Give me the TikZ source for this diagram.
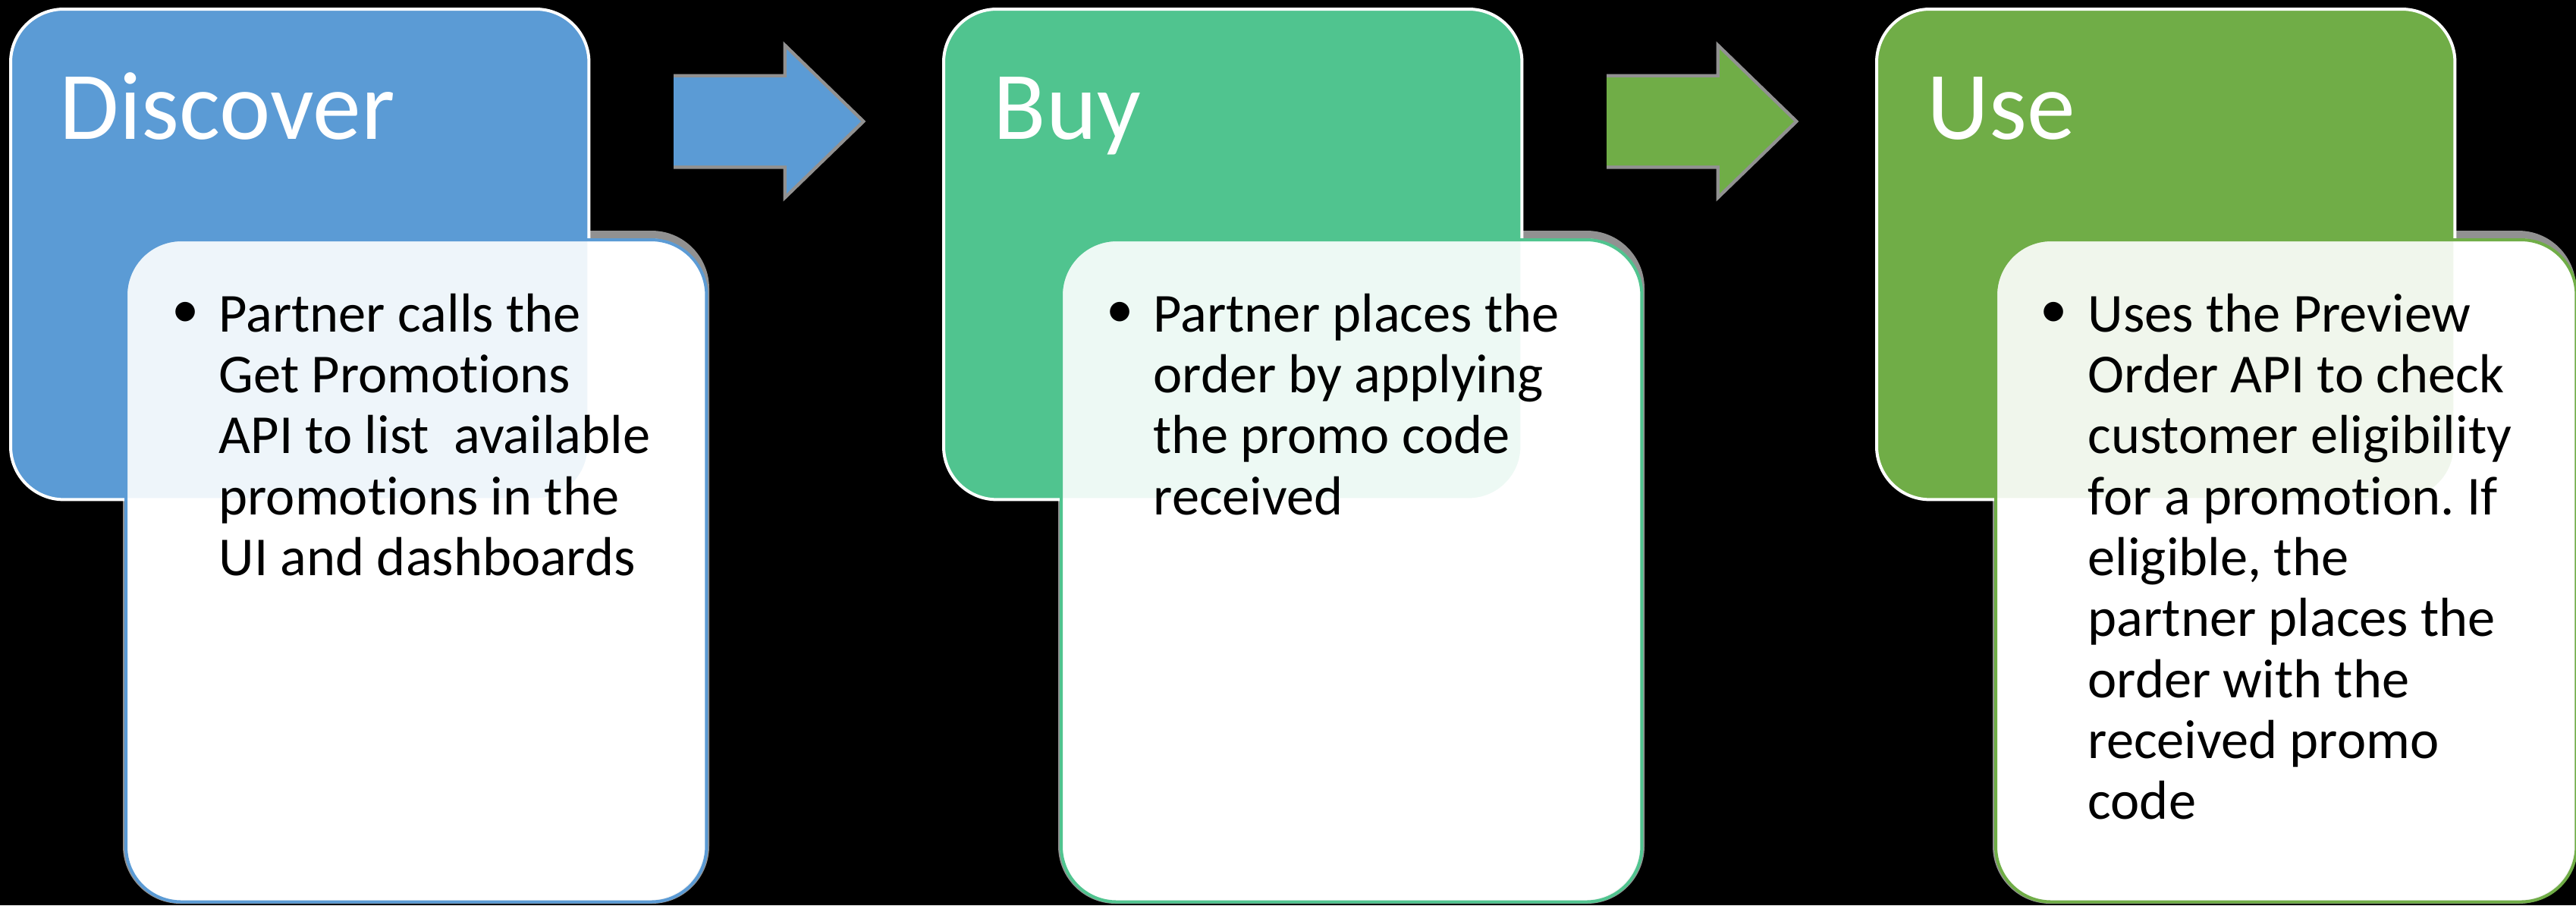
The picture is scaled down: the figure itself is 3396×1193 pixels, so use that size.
\documentclass[tikz,border=0pt]{standalone}
\usepackage{fontspec}
\setmainfont{Carlito}[Ligatures=NoCommon]
\frenchspacing
\definecolor{discblue}{RGB}{91,155,213}
\definecolor{buygreen}{RGB}{80,196,143}
\definecolor{usegreen}{RGB}{112,173,71}
\definecolor{shadowgray}{RGB}{145,145,145}
\begin{document}
\begin{tikzpicture}[x=0.01cm,y=-0.01cm,
  colbox/.style={draw=white, line width=0.04cm, rounded corners=0.7cm, inner sep=0pt,
    minimum width=7.62cm, minimum height=6.46cm, anchor=north west},
  txtbox/.style={line width=0.04cm, fill=white, fill opacity=0.9, rounded corners=0.73cm,
    inner sep=0pt, minimum width=7.65cm, minimum height=8.72cm, anchor=north west},
  whitebase/.style={fill=white, rounded corners=0.73cm},
  shadowbox/.style={fill=shadowgray, rounded corners=0.76cm},
  arrowshade/.style={draw=shadowgray, line width=0.09cm, line join=miter},
  titletext/.style={text=white, inner sep=0pt, anchor=base west,
    font=\fontsize{36.3}{43}\selectfont},
  bodytext/.style={text=black, inner sep=0pt, anchor=base west,
    font=\fontsize{20.6}{22.85}\selectfont\frenchspacing},
  bulletmark/.style={text=black, inner sep=0pt, font=\fontsize{20.6}{22.85}\selectfont}
]
\useasboundingbox (0,0) rectangle (3396,1193);
\fill[black] (0,0) rectangle (3396,1193);

% shadows of the text panels
\fill[shadowbox] (162,304) rectangle (935,1191);
\fill[shadowbox] (1395,304) rectangle (2168,1191);
\fill[shadowbox] (2627,304) rectangle (3396,1191);

% opaque white under the text panels
\fill[whitebase] (164,314) rectangle (929,1186);
\fill[whitebase] (1397,314) rectangle (2162,1186);
\fill[whitebase] (2629,314) rectangle (3394,1186);

% arrows
\draw[arrowshade] (888,102) -- (1037,102) -- (1037,65) -- (1135,160) -- (1037,255) -- (1037,218) -- (888,218);
\fill[discblue] (888,102) -- (1037,102) -- (1037,65) -- (1135,160) -- (1037,255) -- (1037,218) -- (888,218) -- cycle;
\draw[arrowshade] (2118,102) -- (2267,102) -- (2267,65) -- (2365,160) -- (2267,255) -- (2267,218) -- (2118,218);
\fill[usegreen] (2118,102) -- (2267,102) -- (2267,65) -- (2365,160) -- (2267,255) -- (2267,218) -- (2118,218) -- cycle;

% coloured heading panels
\node[colbox, fill=discblue] (disc) at (12,10) {};
\node[colbox, fill=buygreen] (buy) at (1242,10) {};
\node[colbox, fill=usegreen] (use) at (2472,10) {};

% titles
\node[titletext] (tdisc) at (78,183) {Discover};
\node[titletext] (tbuy) at (1309,183) {Buy};
\node[titletext] (tuse) at (2540,183) {Use};

% translucent white text panels
\node[txtbox, draw=discblue] (pdisc) at (164,314) {};
\node[txtbox, draw=buygreen] (pbuy) at (1397,314) {};
\node[txtbox, draw=usegreen] (puse) at (2629,314) {};

% bullets
\node[bulletmark] (bdisc) at (245,415) {•};
\node[bulletmark] (bbuy) at (1477,415) {•};
\node[bulletmark] (buse) at (2708,415) {•};

% body texts
\node[bodytext] (xdisc) at (288,437) {\parbox[t]{7cm}{Partner calls the\\
Get Promotions\\
API to list\ \ available\\
promotions in the\\
UI and dashboards}};
\node[bodytext] (xbuy) at (1520,437) {\parbox[t]{7cm}{Partner places the\\
order by applying\\
the promo code\\
received}};
\node[bodytext] (xuse) at (2752,437) {\parbox[t]{7cm}{Uses the Preview\\
Order API to check\\
customer eligibility\\
for a promotion. If\\
eligible, the\\
partner places the\\
order with the\\
received promo\\
code}};
\end{tikzpicture}
\end{document}
